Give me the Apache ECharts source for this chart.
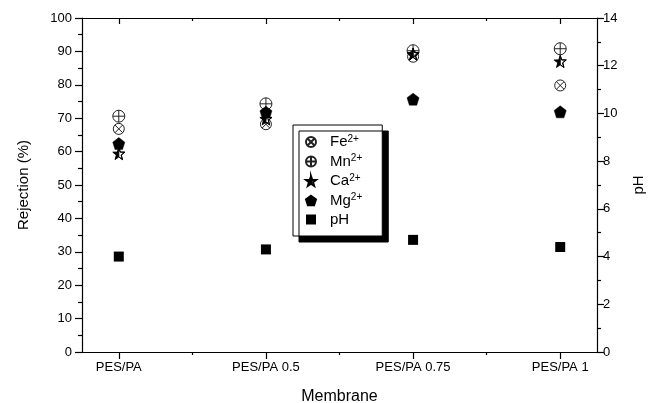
<!DOCTYPE html>
<html>
<head>
<meta charset="utf-8">
<script src="https://cdn.jsdelivr.net/npm/echarts@6/dist/echarts.min.js"></script>
<style>html,body{margin:0;padding:0;background:#fff}#c{width:652px;height:403px}</style>
</head>
<body>
<div id="c"></div>
<script>
// ---- data ----
var categories = ['PES/PA', 'PES/PA 0.5', 'PES/PA 0.75', 'PES/PA 1'];
var feRejection = [66.8, 68.2, 88.4, 79.8];
var mnRejection = [70.6, 74.3, 90.2, 90.8];
var caRejection = [59.4, 69.8, 89.2, 87.0];
var mgRejection = [62.4, 71.8, 75.7, 71.9];
var phValues = [4.0, 4.3, 4.7, 4.4];
var leftTicks = [0, 10, 20, 30, 40, 50, 60, 70, 80, 90, 100];
var rightTicks = [0, 2, 4, 6, 8, 10, 12, 14];

function pts(arr) { return arr.map(function (v, i) { return [i, v]; }); }

var SYM_FE = 'path://M0,-10A10,10,0,1,1,0,10A10,10,0,1,1,0,-10ZM-7.07,-7.07L7.07,7.07M7.07,-7.07L-7.07,7.07';
var SYM_MN = 'path://M0,-10A10,10,0,1,1,0,10A10,10,0,1,1,0,-10ZM-10,0L10,0M0,-10L0,10';
var SYM_CA = 'path://M0,-10L2.351,-3.236L9.511,-3.09L3.804,1.236L5.878,8.09L0,4L-5.878,8.09L-3.804,1.236L-9.511,-3.09L-2.351,-3.236ZM0,-10L0,4L5.878,8.09L3.804,1.236L9.511,-3.09L2.351,-3.236Z';
var SYM_MG = 'path://M0,-10L9.511,-3.09L5.878,8.09L-5.878,8.09L-9.511,-3.09Z';

var FONT = 'Liberation Sans, Arial, sans-serif';
var xMin = -0.25, xMax = 3.25;

var chart = echarts.init(document.getElementById('c'), null, {renderer: 'canvas'});
chart.setOption({
  backgroundColor: '#fff',
  animation: false,
  textStyle: {fontFamily: FONT, color: '#000'},
  grid: {left: 82, right: 55, top: 18, bottom: 51, containLabel: false, outerBoundsMode: 'none'},
  legend: {
    orient: 'vertical',
    left: 293, top: 125,
    padding: [9, 20, 9, 12],
    itemWidth: 10, itemHeight: 10, itemGap: 4,
    backgroundColor: '#fff',
    borderColor: '#000', borderWidth: 1,
    shadowColor: '#000', shadowBlur: 0, shadowOffsetX: 6, shadowOffsetY: 6,
    data: ['Fe', 'Mn', 'Ca', 'Mg', 'pH'],
    formatter: function (name) {
      if (name === 'pH') return '{b|pH}';
      return '{b|' + name + '}{s|2+}';
    },
    textStyle: {
      fontFamily: FONT,
      rich: {
        b: {fontSize: 15, fontFamily: FONT, color: '#000', lineHeight: 16, padding: [0, 0, 0, 9]},
        s: {fontSize: 10, fontFamily: FONT, color: '#000', verticalAlign: 'top', lineHeight: 16}
      }
    }
  },
  xAxis: [
    {
      type: 'value', min: xMin, max: xMax, position: 'bottom',
      name: 'Membrane', nameLocation: 'middle', nameGap: 37,
      nameTextStyle: {fontSize: 16, fontFamily: FONT, color: '#000'},
      axisLine: {show: true, onZero: false, lineStyle: {color: '#000', width: 1.2}},
      axisTick: {show: true, inside: false, length: 7, customValues: [0, 1, 2, 3], lineStyle: {color: '#000', width: 1.2}},
      axisLabel: {show: true, margin: 9, fontSize: 13, color: '#000', fontFamily: FONT, customValues: [0, 1, 2, 3],
        formatter: function (v) { return categories[Math.round(v)]; }},
      splitLine: {show: false}
    },
    {
      type: 'value', min: xMin, max: xMax, position: 'bottom',
      axisLine: {show: false, onZero: false},
      axisTick: {show: true, inside: false, length: 3, customValues: [0.5, 1.5, 2.5], lineStyle: {color: '#000', width: 1.2}},
      axisLabel: {show: false}, splitLine: {show: false}
    },
    {
      type: 'value', min: xMin, max: xMax, position: 'top',
      axisLine: {show: true, onZero: false, lineStyle: {color: '#000', width: 1.2}},
      axisTick: {show: true, inside: true, length: 6, customValues: [0, 1, 2, 3], lineStyle: {color: '#000', width: 1.2}},
      axisLabel: {show: false}, splitLine: {show: false}
    },
    {
      type: 'value', min: xMin, max: xMax, position: 'top',
      axisLine: {show: false, onZero: false},
      axisTick: {show: true, inside: true, length: 3, customValues: [0.5, 1.5, 2.5], lineStyle: {color: '#000', width: 1.2}},
      axisLabel: {show: false}, splitLine: {show: false}
    }
  ],
  yAxis: [
    {
      type: 'value', min: leftTicks[0], max: leftTicks[leftTicks.length - 1], interval: 10, position: 'left',
      name: 'Rejection (%)', nameLocation: 'middle', nameGap: 51, nameRotate: 90,
      nameTextStyle: {fontSize: 15, fontFamily: FONT, color: '#000'},
      axisLine: {show: true, onZero: false, lineStyle: {color: '#000', width: 1.2}},
      axisTick: {show: true, inside: false, length: 7, lineStyle: {color: '#000', width: 1.2}},
      minorTick: {show: true, splitNumber: 2, length: 4, lineStyle: {color: '#000', width: 1.2}},
      axisLabel: {margin: 10, fontSize: 13, color: '#000', fontFamily: FONT},
      splitLine: {show: false}
    },
    {
      type: 'value', min: rightTicks[0], max: rightTicks[rightTicks.length - 1], interval: 2, position: 'right',
      name: 'pH', nameLocation: 'middle', nameGap: 34, nameRotate: 90,
      nameTextStyle: {fontSize: 15, fontFamily: FONT, color: '#000'},
      axisLine: {show: true, onZero: false, lineStyle: {color: '#000', width: 1.2}},
      axisTick: {show: true, inside: false, length: 7, lineStyle: {color: '#000', width: 1.2}},
      minorTick: {show: true, splitNumber: 2, length: 4, lineStyle: {color: '#000', width: 1.2}},
      axisLabel: {margin: 6, fontSize: 13, color: '#000', fontFamily: FONT},
      splitLine: {show: false}
    }
  ],
  series: [
    {name: 'Fe', type: 'scatter', xAxisIndex: 0, yAxisIndex: 0, symbol: SYM_FE, symbolSize: 11,
      itemStyle: {color: 'rgba(255,255,255,0)', borderColor: '#222', borderWidth: 1, opacity: 1}, data: pts(feRejection)},
    {name: 'Mn', type: 'scatter', xAxisIndex: 0, yAxisIndex: 0, symbol: SYM_MN, symbolSize: 12,
      itemStyle: {color: 'rgba(255,255,255,0)', borderColor: '#222', borderWidth: 1, opacity: 1}, data: pts(mnRejection)},
    {name: 'Ca', type: 'scatter', xAxisIndex: 0, yAxisIndex: 0, symbol: SYM_CA, symbolSize: 12,
      itemStyle: {color: '#000', borderColor: '#000', borderWidth: 1, opacity: 1}, data: pts(caRejection)},
    {name: 'Mg', type: 'scatter', xAxisIndex: 0, yAxisIndex: 0, symbol: SYM_MG, symbolSize: 12,
      itemStyle: {color: '#000', borderColor: '#000', borderWidth: 0.5, opacity: 1}, data: pts(mgRejection)},
    {name: 'pH', type: 'scatter', xAxisIndex: 0, yAxisIndex: 1, symbol: 'rect', symbolSize: 10,
      itemStyle: {color: '#000', opacity: 1}, data: pts(phValues)}
  ]
});
</script>
</body>
</html>
